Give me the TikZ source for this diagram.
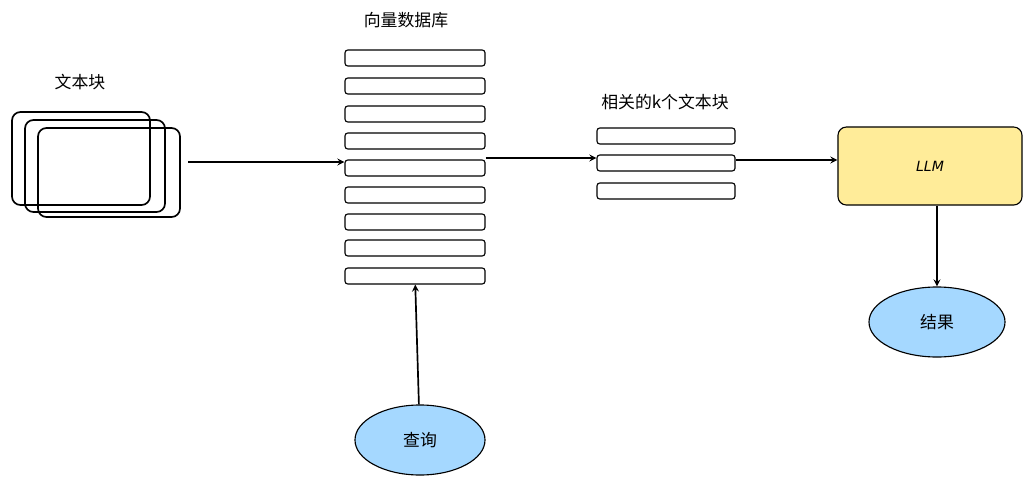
\documentclass[tikz,border=0pt]{standalone}
\usepackage{fontspec}
\setmainfont{Noto Sans CJK SC}
\newfontfamily\llmfont{DejaVu Sans}
\usetikzlibrary{positioning,shapes.geometric}
\tikzset{
  box/.style = {draw, very thick, rounded corners=6pt},
  bar/.style = {draw, thick, rounded corners=2pt, minimum width=3.5cm, minimum height=0.4cm, inner sep=0pt},
  sbar/.style = {bar, minimum width=3.45cm},
  link/.style = {->, very thick, >=stealth},
  lbl/.style = {font=\large},
  blob/.style = {draw, thick, ellipse, fill=skyblue, minimum width=3.4cm, minimum height=1.75cm, font=\large},
}
\definecolor{skyblue}{HTML}{A5D8FF}
\definecolor{llmyellow}{HTML}{FFEC99}
\begin{document}
\begin{tikzpicture}[x=0.025cm, y=-0.025cm]
\useasboundingbox (0,0) rectangle (1033,487);
% text chunks
\node [lbl] (chunkslbl) at (80,82) {文本块};
\draw [box] (12,112) rectangle (150,205);
\draw [box] (25,120) rectangle (165,212);
\draw [box] (38,128) rectangle (180,217);
\coordinate (chunks) at (188,162);
% vector store
\node [lbl] (dblbl) at (406,20) {向量数据库};
\foreach \i [count=\n] in {58,86,114,141,168,195,222,248,276}
  \node [bar] (db\n) at (415,\i) {};
% top-k chunks
\node [lbl] (toplbl) at (665,102) {相关的k个文本块};
\foreach \i [count=\n] in {136,163,191}
  \node [sbar] (top\n) at (666,\i) {};
% model and outputs
\node [box, thick, fill=llmyellow, minimum width=4.6cm, minimum height=1.95cm] (llm) at (930,166) {\llmfont\itshape LLM};
\node [blob] (result) at (937,322) {结果};
\node [blob, minimum width=3.25cm] (query) at (420,440) {查询};
\draw [link] (chunks) -- (chunks -| db5.west);
\draw [link] (db5.east |- 0,158) -- (top2.west |- 0,158);
\draw [link] (top2.east |- 0,160) -- (llm.west |- 0,160);
\draw [link] (llm.south -| result.north) -- (result.north);
\draw [link] (query) -- (db9);
\end{tikzpicture}
\end{document}
